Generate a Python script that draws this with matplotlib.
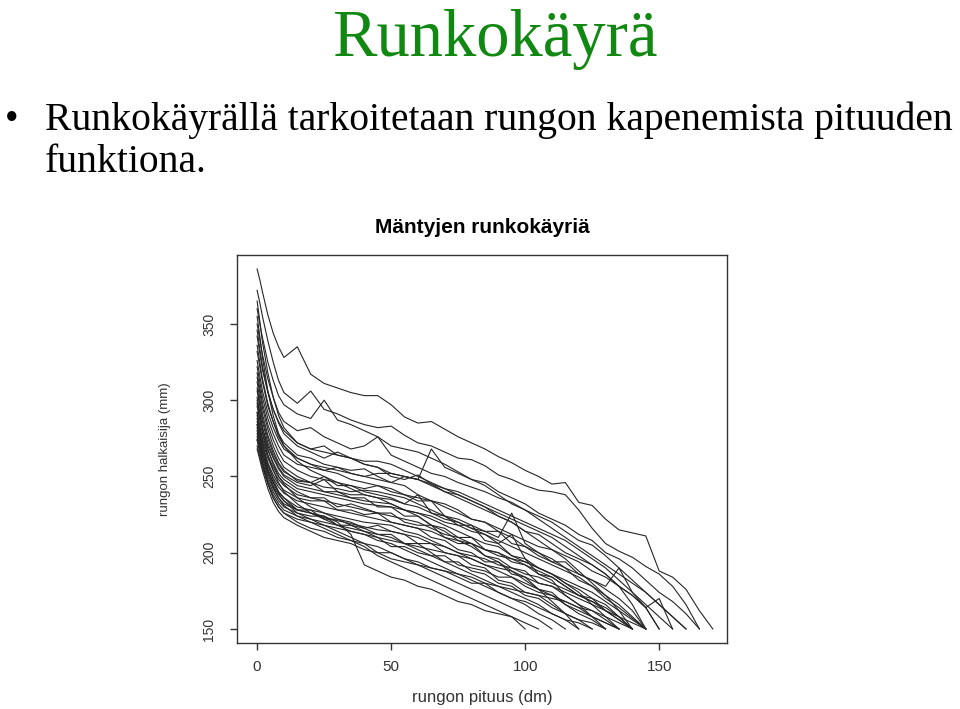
import numpy as np
from matplotlib import pyplot as plt

# Mittauskorkeudet (dm) - yhteinen kaikille rungoille
korkeus = [0, 1, 2, 4, 6, 8, 10, 15, 20, 25, 30, 35, 40, 45, 50, 55, 60, 65, 70, 75,
           80, 85, 90, 95, 100, 105, 110, 115, 120, 125, 130, 135, 140, 145, 150,
           155, 160, 165, 170]

# Rungon halkaisijat (mm) kullakin korkeudella, kunnes 150 mm saavutetaan
runko01 = [386, 379, 371, 356, 344, 335, 328, 335, 317, 311, 308, 305, 303, 303, 297, 289, 285, 286, 281, 276,
           272, 268, 263, 259, 254, 250, 245, 246, 233, 231, 222, 215, 213, 211, 188, 184, 176, 162, 150]
runko02 = [372, 364, 355, 339, 325, 313, 305, 298, 306, 294, 291, 287, 284, 282, 283, 277, 272, 270, 266, 262,
           261, 257, 251, 248, 244, 241, 240, 238, 228, 216, 206, 201, 197, 191, 186, 178, 166, 150]
runko03 = [360, 350, 341, 325, 313, 303, 297, 291, 288, 300, 287, 284, 280, 276, 270, 268, 266, 262, 258, 253,
           248, 246, 240, 236, 232, 226, 222, 218, 212, 208, 200, 196, 190, 182, 174, 168, 160, 150]
runko04 = [350, 340, 330, 314, 302, 292, 286, 280, 282, 276, 272, 268, 270, 276, 264, 260, 256, 252, 250, 246,
           243, 240, 236, 233, 228, 224, 220, 214, 208, 205, 198, 190, 182, 174, 166, 158, 150]
runko05 = [342, 331, 320, 305, 294, 286, 280, 272, 268, 270, 264, 262, 258, 256, 250, 248, 251, 245, 240, 236,
           232, 228, 224, 220, 214, 212, 206, 200, 196, 192, 186, 178, 172, 164, 170, 150]
runko06 = [332, 322, 312, 296, 286, 278, 272, 264, 262, 258, 256, 254, 255, 250, 246, 244, 238, 234, 232, 228,
           222, 220, 214, 210, 204, 200, 194, 190, 182, 178, 170, 164, 157, 150]
runko07 = [326, 316, 306, 292, 282, 274, 268, 262, 258, 256, 254, 252, 250, 248, 246, 250, 248, 268, 256, 252,
           248, 244, 238, 232, 228, 222, 216, 210, 204, 198, 192, 186, 180, 174, 166, 158, 150]
runko08 = [318, 308, 298, 284, 274, 266, 260, 254, 250, 248, 246, 244, 240, 238, 236, 232, 230, 226, 224, 222,
           218, 214, 210, 226, 206, 200, 196, 190, 186, 182, 178, 190, 174, 166, 158, 150]
runko09 = [312, 301, 291, 277, 267, 259, 254, 247, 246, 240, 240, 236, 236, 230, 230, 224, 224, 218, 216, 210,
           210, 202, 200, 194, 192, 186, 184, 178, 172, 170, 162, 156, 150]
runko10 = [336, 325, 314, 298, 286, 276, 270, 262, 258, 254, 252, 248, 246, 244, 240, 238, 236, 234, 230, 226,
           222, 220, 216, 212, 208, 204, 202, 198, 194, 188, 184, 178, 172, 164, 150]
runko11 = [306, 296, 286, 272, 263, 256, 251, 246, 244, 248, 240, 238, 238, 236, 235, 232, 238, 226, 222, 220,
           216, 214, 214, 206, 204, 198, 194, 194, 186, 182, 176, 170, 162, 150]
runko12 = [300, 291, 282, 270, 262, 255, 250, 244, 242, 240, 238, 236, 234, 233, 232, 228, 226, 222, 218, 214,
           210, 206, 204, 198, 194, 190, 186, 180, 176, 170, 166, 158, 150]
runko13 = [296, 287, 279, 267, 259, 252, 248, 242, 240, 238, 236, 234, 232, 231, 230, 228, 226, 224, 220, 218,
           214, 212, 208, 204, 200, 196, 192, 188, 184, 178, 172, 166, 158, 150]
runko14 = [292, 283, 275, 264, 256, 250, 246, 240, 236, 236, 230, 232, 229, 226, 226, 220, 218, 218, 210, 206,
           206, 198, 196, 190, 188, 180, 178, 172, 166, 162, 156, 150]
runko15 = [290, 281, 273, 262, 254, 248, 244, 238, 236, 234, 232, 230, 228, 226, 224, 222, 220, 216, 212, 210,
           206, 202, 198, 196, 192, 188, 184, 178, 172, 168, 162, 156, 150]
runko16 = [288, 279, 270, 259, 251, 245, 241, 236, 234, 234, 228, 228, 225, 226, 220, 218, 216, 210, 208, 202,
           200, 194, 194, 186, 184, 176, 174, 166, 160, 156, 150]
runko17 = [284, 276, 268, 257, 249, 243, 239, 234, 232, 230, 228, 226, 224, 222, 220, 218, 216, 214, 210, 208,
           206, 202, 200, 196, 194, 190, 186, 182, 178, 174, 168, 162, 156, 150]
runko18 = [282, 273, 265, 254, 246, 240, 236, 230, 228, 226, 224, 222, 220, 219, 218, 214, 212, 208, 204, 200,
           196, 192, 188, 184, 180, 176, 172, 168, 164, 158, 154, 150]
runko19 = [280, 271, 263, 252, 244, 238, 234, 228, 228, 222, 222, 220, 216, 218, 214, 212, 206, 206, 200, 198,
           192, 190, 182, 180, 174, 172, 166, 160, 156, 150]
runko20 = [278, 270, 262, 250, 242, 236, 232, 228, 226, 223, 221, 219, 217, 215, 214, 212, 210, 206, 204, 200,
           198, 196, 192, 190, 186, 184, 180, 176, 172, 168, 164, 158, 150]
runko21 = [276, 268, 260, 248, 240, 234, 230, 226, 224, 224, 218, 218, 216, 212, 212, 206, 206, 200, 194, 194,
           188, 186, 180, 178, 172, 170, 164, 160, 156, 154, 150]
runko22 = [274, 266, 258, 246, 238, 232, 228, 224, 222, 220, 218, 216, 214, 212, 210, 206, 202, 198, 194, 190,
           186, 182, 178, 174, 170, 166, 160, 156, 150]
runko23 = [270, 263, 256, 245, 236, 230, 226, 222, 220, 218, 216, 214, 212, 210, 208, 206, 204, 202, 200, 198,
           196, 192, 190, 188, 184, 180, 178, 174, 170, 166, 162, 158, 154, 150]
runko24 = [298, 288, 278, 264, 254, 246, 240, 232, 226, 222, 218, 214, 212, 208, 206, 202, 198, 194, 190, 186,
           182, 178, 174, 170, 166, 160, 156, 150]
runko25 = [302, 292, 282, 268, 258, 250, 245, 236, 230, 226, 222, 218, 214, 210, 204, 204, 200, 198, 198, 192,
           190, 188, 184, 184, 178, 174, 172, 166, 162, 158, 154, 150]
runko26 = [286, 277, 268, 255, 246, 239, 234, 226, 222, 218, 214, 210, 206, 204, 200, 196, 192, 188, 184, 180,
           176, 172, 168, 164, 160, 156, 150]
runko27 = [274, 266, 258, 246, 236, 230, 226, 220, 216, 214, 210, 208, 206, 200, 200, 196, 194, 190, 188, 184,
           180, 180, 174, 170, 168, 164, 160, 156, 154, 150]
runko28 = [268, 261, 254, 242, 233, 227, 223, 218, 214, 210, 208, 206, 202, 200, 196, 194, 192, 190, 188, 186,
           184, 180, 178, 176, 174, 172, 170, 168, 164, 162, 158, 154, 150]
runko29 = [284, 275, 266, 253, 243, 236, 231, 224, 220, 216, 212, 208, 204, 198, 194, 190, 186, 182, 178, 174,
           170, 166, 162, 158, 154, 150]
runko30 = [292, 282, 272, 258, 248, 240, 236, 228, 226, 224, 220, 212, 192, 188, 184, 182, 178, 176, 172, 168,
           166, 162, 160, 158, 150]
runko31 = [322, 312, 302, 288, 278, 270, 264, 258, 256, 254, 256, 252, 250, 252, 252, 250, 248, 245, 242, 240,
           236, 232, 228, 224, 220, 216, 212, 208, 202, 196, 190, 182, 174, 164, 150]
runko32 = [346, 334, 322, 306, 294, 285, 278, 270, 266, 262, 266, 262, 260, 260, 258, 254, 250, 246, 242, 238,
           234, 230, 224, 220, 214, 208, 202, 196, 188, 180, 172, 162, 150]
runko33 = [308, 298, 288, 275, 265, 258, 253, 248, 246, 250, 244, 244, 242, 244, 242, 238, 234, 234, 224, 218,
           218, 208, 206, 198, 196, 186, 182, 172, 166, 158, 150]
runko34 = [315, 305, 295, 281, 270, 262, 256, 250, 246, 243, 242, 240, 241, 240, 238, 236, 232, 228, 224, 220,
           216, 212, 206, 212, 196, 190, 186, 180, 174, 166, 158, 150]
runko35 = [365, 352, 338, 318, 302, 290, 282, 272, 268, 266, 264, 262, 258, 256, 252, 250, 248, 244, 240, 238,
           234, 230, 226, 222, 218, 214, 210, 204, 198, 192, 186, 178, 166, 150]
runko36 = [355, 342, 328, 306, 290, 278, 270, 260, 254, 250, 246, 242, 238, 236, 232, 228, 224, 218, 214, 208,
           204, 198, 194, 188, 182, 176, 168, 160, 150]

runkokayrat = [runko01, runko02, runko03, runko04, runko05, runko06, runko07, runko08, runko09,
               runko10, runko11, runko12, runko13, runko14, runko15, runko16, runko17, runko18,
               runko19, runko20, runko21, runko22, runko23, runko24, runko25, runko26, runko27,
               runko28, runko29, runko30, runko31, runko32, runko33, runko34, runko35, runko36]

x_ticks = [0, 50, 100, 150]
y_ticks = [150, 200, 250, 300, 350]

fig = plt.figure(figsize=(9.6, 7.09), dpi=100)

# Dian otsikko ja teksti
fig.text(495 / 960, 1 - 56 / 709, 'Runkokäyrä', family='Liberation Serif', fontsize=48,
         color='#118811', ha='center', va='baseline')
fig.text(12 / 960, 1 - 130 / 709, '•', family='Liberation Serif', fontsize=28,
         ha='center', va='baseline')
fig.text(45 / 960, 1 - 130 / 709, 'Runkokäyrällä tarkoitetaan rungon kapenemista pituuden',
         family='Liberation Serif', fontsize=28.5, ha='left', va='baseline')
fig.text(45 / 960, 1 - 172 / 709, 'funktiona.', family='Liberation Serif', fontsize=28.5,
         ha='left', va='baseline')

# R-tyylinen kuvaaja
ax = fig.add_axes([237 / 960, 1 - 643 / 709, 490 / 960, 388 / 709])
for y in runkokayrat:
    ax.plot(korkeus[:len(y)], y, color='#262626', lw=0.8)

ax.set_xlim(-7.5, 175.3)
ax.set_ylim(140.8, 395.2)
ax.set_xticks(x_ticks)
ax.set_yticks(y_ticks)
for s in ax.spines.values():
    s.set_color('#333333')
    s.set_linewidth(1.0)
ax.tick_params(axis='both', direction='out', length=5, width=1, color='#333333',
               labelcolor='#333333')
ax.tick_params(axis='x', pad=7, labelsize=11)
ax.tick_params(axis='y', pad=10, labelsize=10, labelrotation=90)
for lbl in ax.get_yticklabels():
    lbl.set_va('center')

ax.set_title('Mäntyjen runkokäyriä', fontsize=15, fontweight='bold', pad=16,
             family='Liberation Sans')
ax.set_xlabel('rungon pituus (dm)', fontsize=12, color='#333333', family='Liberation Sans')
ax.set_ylabel('rungon halkaisija (mm)', fontsize=9.5, color='#333333', family='Liberation Sans')
ax.xaxis.set_label_coords(0.5, -0.12)
ax.yaxis.set_label_coords(-0.135, 0.5)
for lbl in ax.get_xticklabels() + ax.get_yticklabels():
    lbl.set_family('Liberation Sans')

plt.savefig('out.png', dpi=100)
